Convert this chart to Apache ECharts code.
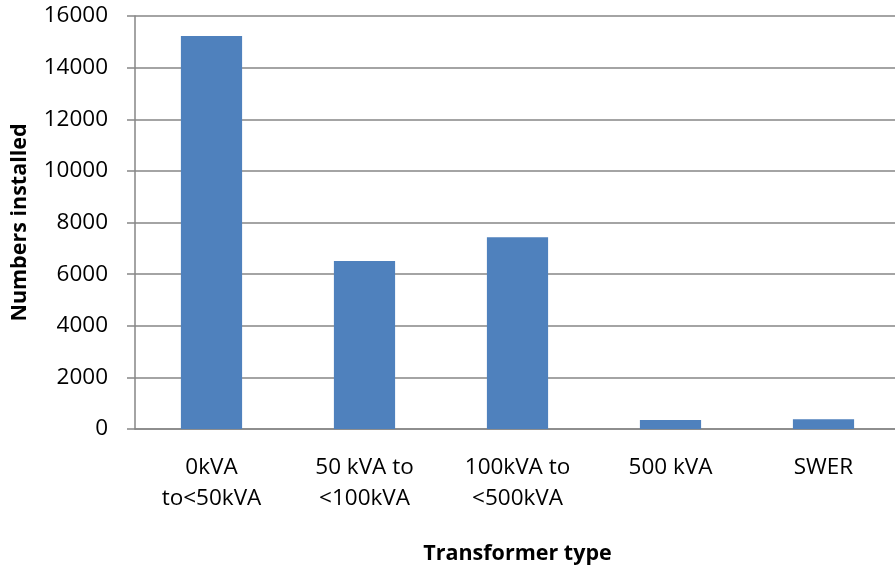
<!DOCTYPE html>
<html><head><meta charset="utf-8">
<script src="https://cdn.jsdelivr.net/npm/echarts@6/dist/echarts.min.js"></script>
<style>html,body{margin:0;padding:0;background:#fff}#c{width:895px;height:565px}</style>
</head><body><div id="c"></div>
<script>
const categories = ['0kVA\nto<50kVA', '50 kVA to\n<100kVA', '100kVA to\n<500kVA', '500 kVA', 'SWER'];
const installed = [15230, 6510, 7430, 350, 380];
const yTicks = [0, 2000, 4000, 6000, 8000, 10000, 12000, 14000, 16000];
const font = '"Open Sans", Lato, sans-serif';
const chart = echarts.init(document.getElementById('c'), null, {renderer: 'canvas'});
chart.setOption({
  animation: false,
  grid: {left: 135, right: -5, top: 16, bottom: 136, containLabel: false, outerBoundsMode: 'none'},
  xAxis: {
    type: 'category', data: categories,
    name: 'Transformer type', nameLocation: 'middle', nameGap: 114,
    nameTextStyle: {fontFamily: font, fontSize: 21.5, fontWeight: 'bold', color: '#000'},
    axisLine: {lineStyle: {color: '#868686', width: 1.5}},
    axisTick: {show: false},
    axisLabel: {fontFamily: font, fontSize: 22.5, color: '#000', margin: 23, lineHeight: 31, interval: 0}
  },
  yAxis: {
    type: 'value', min: yTicks[0], max: yTicks[yTicks.length - 1], interval: 2000,
    name: 'Numbers installed', nameLocation: 'middle', nameGap: 104,
    nameTextStyle: {fontFamily: font, fontSize: 21.5, fontWeight: 'bold', color: '#000'},
    axisLine: {show: true, lineStyle: {color: '#868686', width: 1.5}},
    axisTick: {show: true, length: 8, lineStyle: {color: '#868686', width: 1.5}},
    axisLabel: {fontFamily: font, fontSize: 22.5, color: '#000', margin: 27, formatter: v => String(v)},
    splitLine: {lineStyle: {color: '#868686', width: 1.5}}
  },
  series: [{
    type: 'bar', data: installed, barWidth: '40%',
    itemStyle: {color: '#4f81bd'}
  }]
});
</script></body></html>
